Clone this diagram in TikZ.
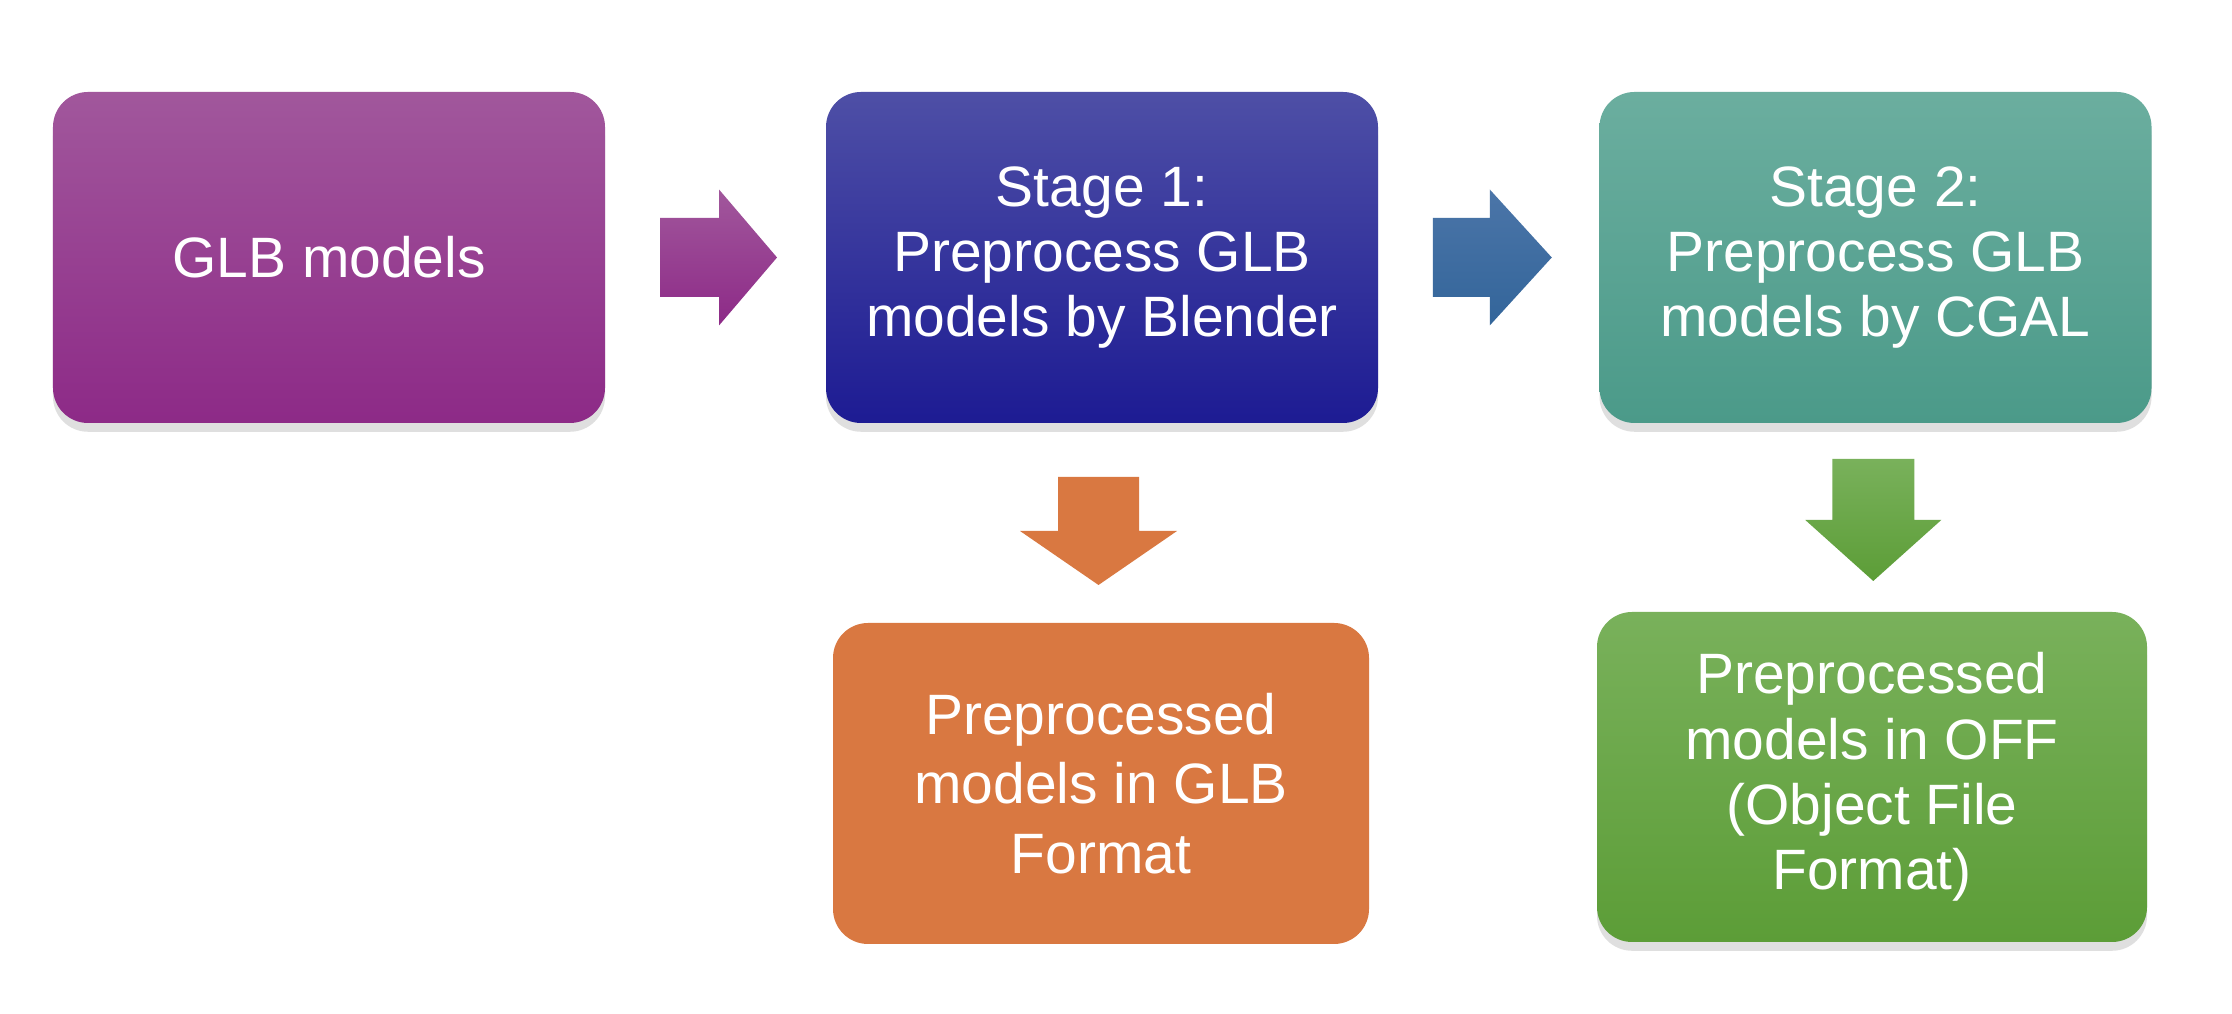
\documentclass[tikz,border=0pt]{standalone}
\usepackage{fontspec}
\setmainfont{Liberation Sans}
\usetikzlibrary{calc,shadows}
\definecolor{purpletop}{HTML}{A1579C}
\definecolor{purplebot}{HTML}{8D2A87}
\definecolor{bluetop}{HTML}{4E4FA6}
\definecolor{bluebot}{HTML}{1D1B93}
\definecolor{tealtop}{HTML}{6BAE9F}
\definecolor{tealbot}{HTML}{4B9A89}
\definecolor{orangefill}{HTML}{D97841}
\definecolor{greentop}{HTML}{79B15B}
\definecolor{greenbot}{HTML}{5C9D37}
\definecolor{arrowbluetop}{HTML}{4B75A8}
\definecolor{arrowbluebot}{HTML}{33659A}
\tikzset{
  box/.style={rounded corners=0.35cm, text=white, align=center, inner sep=0pt,
    font=\fontsize{16.2}{18.6}\selectfont, minimum width=5.52cm, minimum height=3.31cm},
  boxshadow/.style={drop shadow={opacity=0.25, shadow xshift=0pt, shadow yshift=-2.5pt}}
}
\begin{document}
\begin{tikzpicture}
\useasboundingbox[fill=white] (0,0) rectangle (22.32,10.14);
\node[box, boxshadow, top color=purpletop, bottom color=purplebot] (glb) at (3.29,7.565) {GLB models};
\node[box, boxshadow, top color=bluetop, bottom color=bluebot] (stagea) at (11.02,7.565) {Stage 1:\\Preprocess GLB\\models by Blender};
\node[box, boxshadow, top color=tealtop, bottom color=tealbot] (stageb) at (18.755,7.565) {Stage 2:\\Preprocess GLB\\models by CGAL};
\node[box, fill=orangefill, minimum width=5.36cm, minimum height=3.21cm, font=\fontsize{16.2}{19.8}\selectfont] (outa) at (11.01,2.305) {Preprocessed\\models in GLB\\Format};
\node[box, boxshadow, top color=greentop, bottom color=greenbot, minimum width=5.50cm, minimum height=3.30cm] (outb) at (18.72,2.37) {Preprocessed\\models in OFF\\(Object File\\Format)};
% block arrows between the boxes
\coordinate (m1) at ($(glb.east)!0.5!(stagea.west)$);
\coordinate (m2) at ($(stagea.east)!0.5!(stageb.west)$);
\coordinate (m3) at ($(stagea.south)!0.5!(outa.north)$);
\coordinate (m4) at ($(stageb.south)!0.5!(outb.north)$);
\shade[top color=purpletop, bottom color=purplebot] ($(m1)+(-0.555,0.395)$) -- ++(0.59,0) -- ++(0,0.285) -- ++(0.58,-0.68) -- ++(-0.58,-0.68) -- ++(0,0.285) -- ++(-0.59,0) -- cycle;
\shade[top color=arrowbluetop, bottom color=arrowbluebot] ($(m2)+(-0.56,0.395)$) -- ++(0.57,0) -- ++(0,0.285) -- ++(0.62,-0.68) -- ++(-0.62,-0.68) -- ++(0,0.285) -- ++(-0.57,0) -- cycle;
\fill[orangefill] ($(m3)+(-0.435,0.46)$) -- ++(0.81,0) -- ++(0,-0.54) -- ++(0.38,0) -- ++(-0.785,-0.54) -- ++(-0.785,0.54) -- ++(0.38,0) -- cycle;
\shade[top color=greentop, bottom color=greenbot] ($(m4)+(-0.415,0.585)$) -- ++(0.82,0) -- ++(0,-0.61) -- ++(0.27,0) -- ++(-0.68,-0.61) -- ++(-0.68,0.61) -- ++(0.27,0) -- cycle;
\end{tikzpicture}
\end{document}
